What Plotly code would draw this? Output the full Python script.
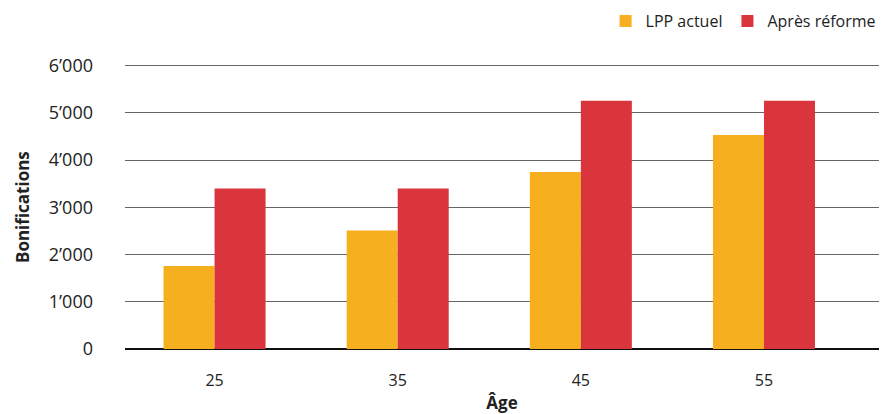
import plotly.graph_objects as go

ages = ["25", "35", "45", "55"]
lpp_actuel = [1757, 2510, 3750, 4530]
apres_reforme = [3400, 3400, 5260, 5260]
y_tickvals = [0, 1000, 2000, 3000, 4000, 5000, 6000]
y_ticktext = ["0", "1’000", "2’000", "3’000", "4’000", "5’000", "6’000"]

FONT = "Open Sans"

fig = go.Figure()
fig.add_trace(go.Bar(x=ages, y=lpp_actuel, name="LPP actuel", marker=dict(color="#F5AF1F", line_width=0)))
fig.add_trace(go.Bar(x=ages, y=apres_reforme, name="Après réforme", marker=dict(color="#DA343C", line_width=0)))

fig.update_layout(
    width=885, height=414,
    margin=dict(l=125, r=6, t=61, b=65, autoexpand=False),
    paper_bgcolor="white", plot_bgcolor="white",
    barmode="group", bargap=0.443, bargroupgap=0,
    font=dict(family=FONT, size=16, color="#222"),
    legend=dict(orientation="h", xref="container", x=0.995, xanchor="right",
                yref="container", y=0.99, yanchor="top",
                font=dict(size=16, color="#222"), itemwidth=30, traceorder="normal"),
    xaxis=dict(range=[-0.489, 3.628], showgrid=False, showline=False, ticks="",
               ticklabelstandoff=20, tickfont=dict(size=16),
               title=dict(text="<b>Âge</b>", standoff=9, font=dict(size=17, color="#222"))),
    yaxis=dict(range=[0, 6100], tickvals=y_tickvals, ticktext=y_ticktext,
               showgrid=True, gridcolor="#666", gridwidth=1,
               zeroline=True, zerolinecolor="#111", zerolinewidth=1.5,
               showline=False, ticks="", ticklabelstandoff=31, tickfont=dict(size=18)),
    annotations=[dict(text="<b>Bonifications</b>", textangle=-90, showarrow=False,
                      xref="paper", yref="paper", x=(22 - 125) / 754, y=(349 - 207) / 288,
                      xanchor="center", yanchor="middle",
                      font=dict(size=17, color="#222", family=FONT))],
)

fig.write_html("out.html")
